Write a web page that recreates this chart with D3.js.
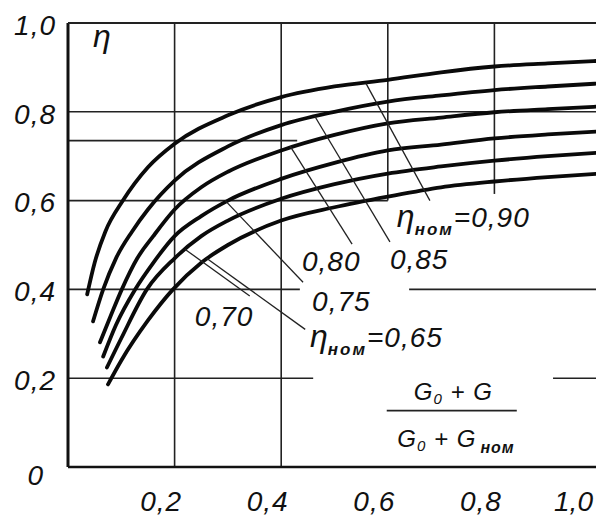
<!DOCTYPE html>
<html>
<head>
<meta charset="utf-8">
<script src="https://cdn.jsdelivr.net/npm/d3@7"></script>
<style>
  body { margin: 0; background: #fff; }
  svg text { font-family: "Liberation Sans", Arial, sans-serif; font-style: italic; fill: #111; }
</style>
</head>
<body>
<svg width="596" height="524"></svg>
<script>
// Tick values
const xTicks = [0.2, 0.4, 0.6, 0.8, 1.0];
const yTicks = [0, 0.2, 0.4, 0.6, 0.8, 1.0];

// Curves, one per nominal efficiency: [load ratio, efficiency]
const eta90 = [[0.036,0.389],[0.05,0.46],[0.07,0.53],[0.103,0.60],[0.15,0.675],[0.2,0.728],[0.3,0.792],[0.4,0.833],[0.5,0.857],[0.6,0.872],[0.7,0.889],[0.8,0.902],[0.9,0.909],[1.0,0.915]];
const eta85 = [[0.047,0.328],[0.066,0.40],[0.09,0.47],[0.12,0.53],[0.15,0.58],[0.2,0.645],[0.3,0.722],[0.4,0.770],[0.5,0.800],[0.6,0.823],[0.7,0.837],[0.8,0.849],[0.9,0.857],[1.0,0.864]];
const eta80 = [[0.060,0.281],[0.08,0.34],[0.101,0.40],[0.13,0.47],[0.16,0.52],[0.2,0.58],[0.25,0.63],[0.3,0.665],[0.4,0.713],[0.5,0.748],[0.6,0.774],[0.7,0.787],[0.8,0.799],[0.9,0.806],[1.0,0.812]];
const eta75 = [[0.066,0.249],[0.09,0.32],[0.126,0.40],[0.16,0.46],[0.2,0.52],[0.25,0.565],[0.3,0.60],[0.4,0.649],[0.5,0.685],[0.6,0.713],[0.7,0.726],[0.8,0.740],[0.9,0.749],[1.0,0.756]];
const eta70 = [[0.073,0.224],[0.1,0.29],[0.148,0.40],[0.2,0.47],[0.25,0.52],[0.3,0.555],[0.4,0.604],[0.5,0.637],[0.6,0.661],[0.7,0.677],[0.8,0.690],[0.9,0.700],[1.0,0.708]];
const eta65 = [[0.075,0.186],[0.1,0.24],[0.15,0.33],[0.197,0.40],[0.25,0.46],[0.3,0.50],[0.4,0.555],[0.5,0.585],[0.6,0.609],[0.7,0.630],[0.8,0.643],[0.9,0.653],[1.0,0.661]];
const curves = [eta90, eta85, eta80, eta75, eta70, eta65];

// Curve labels and their leader lines (data units)
const labelText = ["0,90", "0,85", "0,80", "0,75", "0,70", "0,65"];
const labelWithEta = [true, false, false, false, false, true];
const labelPos = [[0.617,0.541],[0.604,0.446],[0.439,0.441],[0.458,0.351],[0.238,0.317],[0.454,0.271]];
const leaderFrom = [[0.559,0.864],[0.463,0.790],[0.417,0.722],[0.295,0.600],[0.22,0.490],[0.26,0.470]];
const leaderTo = [[0.679,0.600],[0.604,0.507],[0.533,0.502],[0.441,0.416],[0.341,0.385],[0.445,0.310]];

// Grid segments: [value, from, to]
const hGrid = [[0.2,0,0.46],[0.2,0.91,1.0],[0.4,0,0.435],[0.4,0.64,1.0],[0.6,0,0.6],[0.735,0,0.43],[0.8,0,1.0]];
const vGrid = [[0.2,0,1.0],[0.4,0,1.0],[0.6,0.6,1.0],[0.8,0.615,1.0]];

const svg = d3.select("svg");
const x = d3.scaleLinear().domain([0, 1]).range([68, 601]);
const y = d3.scaleLinear().domain([0, 1]).range([467, 23]);
const fmt = d => d === 0 ? "0" : d3.format(".1f")(d).replace(".", ",");

// grid
svg.append("g").selectAll("line").data(hGrid).join("line")
  .attr("x1", d => x(d[1])).attr("x2", d => x(d[2]))
  .attr("y1", d => y(d[0])).attr("y2", d => y(d[0]))
  .attr("stroke", "#222").attr("stroke-width", 1.6);
svg.append("g").selectAll("line").data(vGrid).join("line")
  .attr("x1", d => x(d[0])).attr("x2", d => x(d[0]))
  .attr("y1", d => y(d[1])).attr("y2", d => y(d[2]))
  .attr("stroke", "#222").attr("stroke-width", 1.6);

// frame: left, bottom, top
svg.append("line").attr("x1", x(0)).attr("x2", x(0)).attr("y1", y(0)).attr("y2", y(1))
  .attr("stroke", "#111").attr("stroke-width", 3);
svg.append("line").attr("x1", x(0)).attr("x2", x(1)).attr("y1", y(0)).attr("y2", y(0))
  .attr("stroke", "#111").attr("stroke-width", 2.4);
svg.append("line").attr("x1", x(0)).attr("x2", x(1)).attr("y1", y(1)).attr("y2", y(1))
  .attr("stroke", "#222").attr("stroke-width", 2);

// axes labels via d3 axes
const xAxis = svg.append("g").attr("transform", `translate(0,${y(0)})`)
  .call(d3.axisBottom(x).tickValues(xTicks).tickSize(0).tickPadding(24).tickFormat(fmt));
xAxis.select(".domain").remove();
xAxis.selectAll("text").attr("dx", d => d === 1 ? -28 : -14).attr("font-size", 28)
  .attr("letter-spacing", d => d === 1 ? 0 : 1)
  .attr("font-family", null).attr("fill", null);

const yAxis = svg.append("g").attr("transform", `translate(${x(0)},0)`)
  .call(d3.axisLeft(y).tickValues(yTicks).tickSize(0).tickPadding(12).tickFormat(fmt));
yAxis.select(".domain").remove();
yAxis.selectAll("text").attr("dy", "0.4em").attr("font-size", 28).attr("letter-spacing", 1)
  .attr("font-family", null).attr("fill", null)
  .attr("dx", d => d === 0 ? -12 : 0).attr("transform", d => d === 0 ? "translate(0,6)" : null);

// curves
const line = d3.line().x(d => x(d[0])).y(d => y(d[1])).curve(d3.curveMonotoneX);
svg.append("g").selectAll("path").data(curves).join("path")
  .attr("d", line).attr("fill", "none").attr("stroke", "#0a0a0a")
  .attr("stroke-width", 3.8).attr("stroke-linecap", "round");

// leader lines
svg.append("g").selectAll("line").data(leaderFrom).join("line")
  .attr("x1", d => x(d[0])).attr("y1", d => y(d[1]))
  .attr("x2", (d, i) => x(leaderTo[i][0])).attr("y2", (d, i) => y(leaderTo[i][1]))
  .attr("stroke", "#222").attr("stroke-width", 1.3);

// curve labels
labelText.forEach((t, i) => {
  const txt = svg.append("text").attr("x", x(labelPos[i][0])).attr("y", y(labelPos[i][1]))
    .attr("font-size", 28).attr("letter-spacing", 1);
  if (labelWithEta[i]) {
    txt.append("tspan").attr("font-size", 32).attr("letter-spacing", 0).text("η");
    txt.append("tspan").attr("font-size", 17).attr("font-weight", "bold").attr("letter-spacing", 2)
      .attr("dy", 8).text("ном");
    txt.append("tspan").attr("dy", -8).text("=" + t);
  } else {
    txt.text(t);
  }
});

// eta axis title
svg.append("text").attr("x", x(0.047)).attr("y", y(0.945)).attr("font-size", 32).text("η");

// x axis title as fraction
svg.append("text").attr("x", x(0.723)).attr("y", y(0.152)).attr("text-anchor", "middle")
  .attr("font-size", 24).attr("letter-spacing", 1)
  .call(t => {
    t.append("tspan").text("G");
    t.append("tspan").attr("font-size", 15).attr("dy", 4).text("0");
    t.append("tspan").attr("dy", -4).text(" + G");
  });
svg.append("line").attr("x1", x(0.598)).attr("x2", x(0.842)).attr("y1", y(0.127)).attr("y2", y(0.127))
  .attr("stroke", "#222").attr("stroke-width", 1.8);
svg.append("text").attr("x", x(0.728)).attr("y", y(0.045)).attr("text-anchor", "middle")
  .attr("font-size", 24).attr("letter-spacing", 1)
  .call(t => {
    t.append("tspan").text("G");
    t.append("tspan").attr("font-size", 15).attr("dy", 4).text("0");
    t.append("tspan").attr("dy", -4).text(" + G");
    t.append("tspan").attr("font-size", 16).attr("font-weight", "bold").attr("dy", 6).attr("dx", 4).text("ном");
  });
</script>
</body>
</html>
